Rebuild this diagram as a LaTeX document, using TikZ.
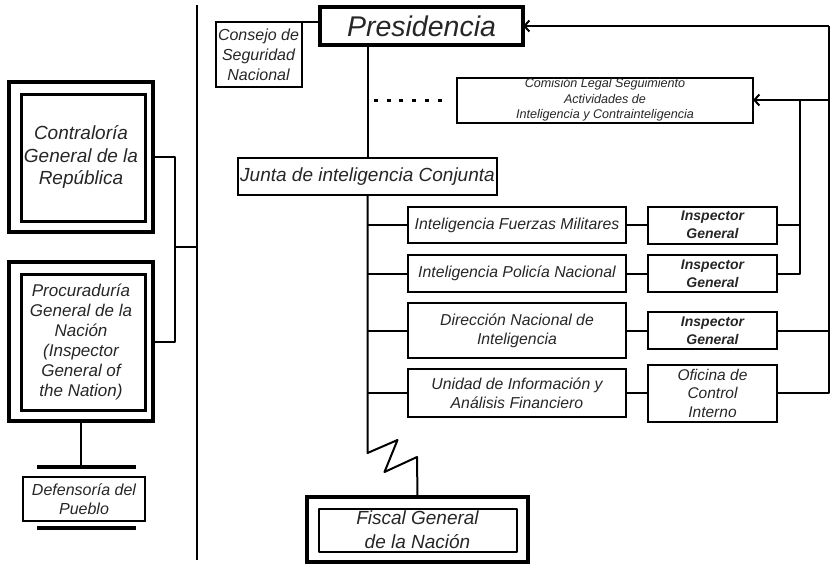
\documentclass[tikz,border=0pt]{standalone}
\usepackage{fontspec}
\setmainfont{Liberation Sans}
\usetikzlibrary{arrows.meta,positioning}

\tikzset{
  orgbox/.style={rectangle, draw, line width=2pt, align=center, inner sep=0pt, outer sep=0pt, text=black!85},
  unitbox/.style={orgbox, minimum width=218pt, font=\itshape\fontsize{15.8}{19}\selectfont},
  insp/.style={orgbox, minimum width=129pt, minimum height=37pt, font=\bfseries\itshape\fontsize{14}{18}\selectfont},
  outerbox/.style={orgbox, line width=4.5pt, minimum width=144pt},
  innerline/.style={line width=3pt},
  link/.style={line width=2pt, line join=round},
  barline/.style={line width=4pt},
}

\begin{document}
\begin{tikzpicture}[x=1pt, y=-1pt, >={Straight Barb[length=5pt, width=11pt, line width=2pt]}]
    \useasboundingbox (0,0) rectangle (831,563);

    % left side
    \node(contra) [outerbox, minimum height=150pt, font=\itshape\fontsize{19}{22.5}\selectfont] at (81,157) {Contraloría\\General de la\\República};
    \node(procu) [outerbox, minimum height=159pt, below=30pt of contra, font=\itshape\fontsize{17}{20}\selectfont] {Procuraduría\\General de la\\Nación\\(Inspector\\General of\\the Nation)};
    \foreach \b in {contra,procu}
      \draw[innerline] ([shift={(12,12)}]\b.north west) rectangle ([shift={(-8,-11)}]\b.south east);
    \node(def) [orgbox, minimum width=122pt, minimum height=44pt, font=\itshape\fontsize{16}{19}\selectfont] at (84,499) {Defensoría del\\Pueblo};
    \draw[barline] ([shift={(14,-10)}]def.north west) -- ([shift={(-9,-10)}]def.north east);
    \draw[barline] ([shift={(14,7)}]def.south west) -- ([shift={(-9,7)}]def.south east);
    \coordinate(dbar) at ([yshift=10pt]def.north);
    \draw[link] (procu.south) -- (procu.south |- dbar);

    \coordinate(divtop) at (197,5);
    \coordinate(divbot) at (197,560);
    \draw[link, line width=2.2pt] (divtop) -- (divbot);
    \coordinate(brk) at (175,247);
    \draw[link] (contra.east) -| (brk) |- (procu.east);
    \draw[link] (brk) -- (brk -| divtop);

    % right side
    \node(pres) [orgbox, line width=3.5pt, minimum width=203pt, minimum height=38pt, font=\itshape\fontsize{28.5}{30}\selectfont] at (421.5,26) {Presidencia};
    \node(cons) [orgbox, minimum width=86pt, minimum height=65pt, font=\itshape\fontsize{16}{20}\selectfont] at (258.5,54.5) {Consejo de\\Seguridad\\Nacional};
    \node(com) [orgbox, minimum width=296pt, minimum height=45pt, font=\itshape\fontsize{12.6}{15.5}\selectfont] at (605,100) {Comisión Legal Seguimiento\\Actividades de\\Inteligencia y Contrainteligencia};
    \node(junta) [orgbox, minimum width=259pt, minimum height=37pt, font=\itshape\fontsize{19}{22}\selectfont] at (367.5,176.5) {Junta de inteligencia Conjunta};

    \node(ifm) [unitbox, minimum height=36pt] at (517,225) {Inteligencia Fuerzas Militares};
    \node(ipn) [unitbox, minimum height=37pt, below=12pt of ifm] {Inteligencia Policía Nacional};
    \node(dni) [unitbox, minimum height=55pt, below=11pt of ipn] {Dirección Nacional de\\Inteligencia};
    \node(uiaf) [unitbox, minimum height=48pt, below=11pt of dni] {Unidad de Información y\\Análisis Financiero};

    \node(ig1) [insp, right=22pt of ifm] {Inspector\\General};
    \node(ig2) [insp, right=22pt of ipn] {Inspector\\General};
    \node(ig3) [insp, right=22pt of dni] {Inspector\\General};
    \node(ofi) [orgbox, minimum width=129pt, minimum height=57pt, right=22pt of uiaf, font=\itshape\fontsize{15.5}{18.5}\selectfont] {Oficina de\\Control\\Interno};

    \node(fiscal) [orgbox, line width=4pt, minimum width=221pt, minimum height=65pt, font=\itshape\fontsize{19}{24}\selectfont] at (417.5,529.5) {Fiscal General\\de la Nación};
    \draw[link] ([shift={(12,12)}]fiscal.north west) rectangle ([shift={(-11,-10)}]fiscal.south east);

    \draw[link] (cons.north east) -- (cons.north east -| pres.west);
    \draw[line width=3pt, dash pattern=on 4pt off 8.7pt] ([xshift=-83pt]com.west) -- ([xshift=-7pt]com.west);
    \draw[link] (junta.north |- pres.south) -- (junta.north);
    \draw[link] (junta.south) -- ++(0,258) -- ++(30,-13) -- ++(-13,32) -- ++(32.5,-15) -- (fiscal.north);
    \foreach \n in {ifm,ipn,dni,uiaf}
      \draw[link] (\n.west) -- (\n.west -| junta.south);
    \foreach \a/\b in {ifm/ig1,ipn/ig2,dni/ig3,uiaf/ofi}
      \draw[link] (\a.east) -- (\b.west);

    \coordinate(jn) at (800,100);
    \coordinate(re) at (829,26);
    \draw[link, ->] (jn) -- (com.east);
    \draw[link] (ig1.east) -| (jn);
    \draw[link] (ig2.east) -| (jn);
    \draw[link, ->] (re) -- (pres.east);
    \draw[link] (re) |- (ofi.east);
    \draw[link] (ig3.east) -- (ig3.east -| re);
    \draw[link] (jn) -- (jn -| re);
\end{tikzpicture}
\end{document}
